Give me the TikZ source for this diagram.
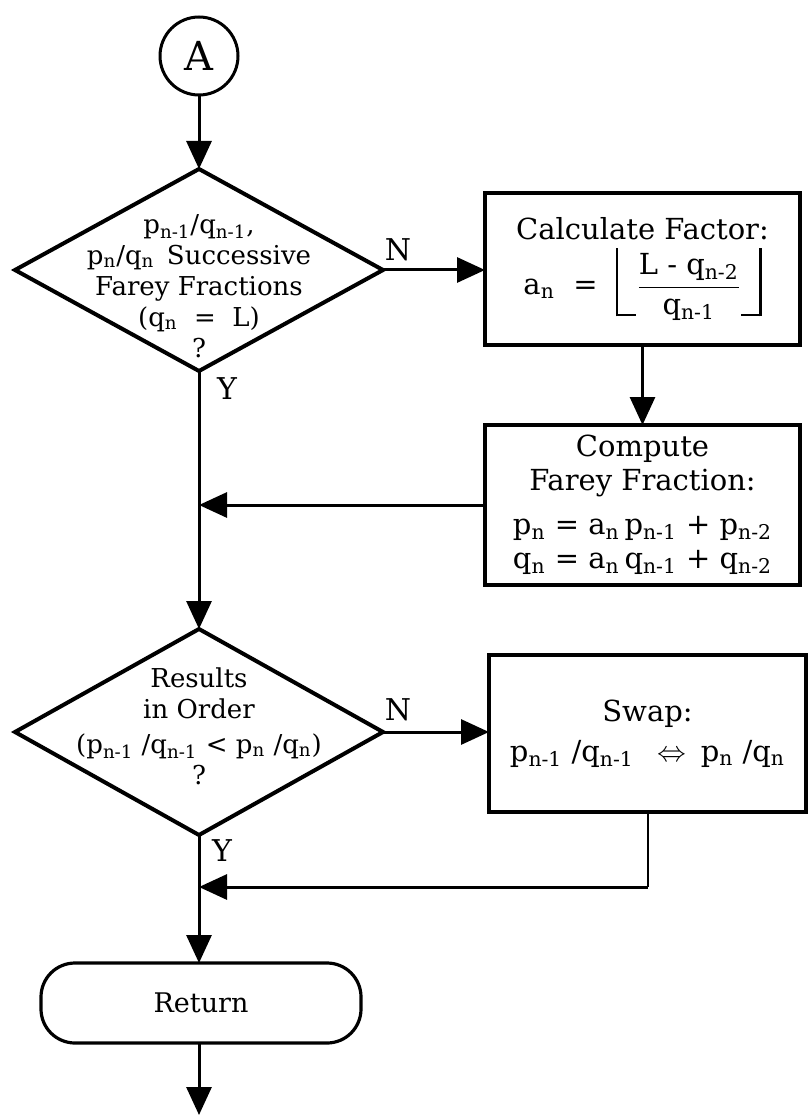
\documentclass[tikz,border=0pt]{standalone}
\usepackage{fontspec}
\usepackage{amsmath}
\setmainfont{DejaVu Serif}
\usetikzlibrary{shapes.geometric,arrows.meta,calc}
\newcommand{\sbs}[1]{\textsubscript{#1}}
\newcommand{\flrL}{\rule[-11pt]{1.2pt}{34pt}\rule[-11pt]{9pt}{1.2pt}}
\newcommand{\flrR}{\rule[-11pt]{9pt}{1.2pt}\rule[-11pt]{1.2pt}{34pt}}
\tikzset{
  ln/.style={line width=1.5pt},
  arr/.style={ln,-{Triangle[length=14pt,width=12.5pt]}},
  dia/.style={draw,shape=diamond,line width=2pt,inner sep=0pt,outer sep=0pt,
              minimum width=184pt,minimum height=101pt},
  box/.style={draw,rectangle,line width=1.6pt,inner sep=0pt,outer sep=0pt,align=center,
              font=\fontsize{14.5}{17}\selectfont},
  dtext/.style={align=center,inner sep=0pt,font=\fontsize{13}{15.5}\selectfont},
  lbl/.style={inner sep=0pt,font=\fontsize{15}{18}\selectfont},
}
\begin{document}
\begin{tikzpicture}[x=0.5pt,y=-0.5pt]
\useasboundingbox (0,0) rectangle (812,1117);

% connector A
\node[draw,circle,line width=1.5pt,minimum size=39pt,inner sep=0pt,outer sep=0pt,
      font=\fontsize{20}{24}\selectfont] (A) at (199,56) {A};

% decision 1
\node[dia] (d1) at (199,270) {};
\node[dtext] (t1) at (199,286) {p\sbs{n-1}/q\sbs{n-1},\\
  p\sbs{n}/q\sbs{n} \,Successive\\ Farey Fractions\\ (q\sbs{n} \ = \ L)\\ ?};

% process boxes
\node[box,minimum width=157.5pt,minimum height=76pt] (b1) at (642.5,269)
  {Calculate Factor:\\[3pt]
   a\sbs{n} \ = \ \flrL$\displaystyle\frac{\mbox{L - q\sbs{n-2}}}{\mbox{q\sbs{n-1}}}$\flrR};
\node[box,minimum width=157.5pt,minimum height=80pt] (b2) at (642.5,505)
  {Compute\\ Farey Fraction:\\[5pt]
   p\sbs{n} = a\sbs{n}\,p\sbs{n-1} + p\sbs{n-2}\\
   q\sbs{n} = a\sbs{n}\,q\sbs{n-1} + q\sbs{n-2}};

% decision 2
\node[dia,minimum height=103pt] (d2) at (199,732) {};
\node[dtext] (t2) at (199,726) {Results\\ in Order\\[2pt]
  (p\sbs{n-1} /q\sbs{n-1} {<} p\sbs{n} /q\sbs{n})\\ ?};

\node[box,minimum width=158.5pt,minimum height=78.5pt] (b3) at (647.5,733.5)
  {Swap:\\[3pt] p\sbs{n-1} /q\sbs{n-1} \enspace$\Leftrightarrow$\enspace p\sbs{n} /q\sbs{n}};

% terminal
\node[draw,rectangle,rounded corners=17pt,line width=1.6pt,minimum width=160pt,
      minimum height=40pt,inner sep=0pt,outer sep=0pt,
      font=\fontsize{13.5}{15}\selectfont] (ret) at (201,1003) {Return};
\coordinate (j2) at (199,887);

% labels
\node[lbl] (n1) at (398,250) {N};
\node[lbl] (y1) at (227,389) {Y};
\node[lbl] (n2) at (398,710) {N};
\node[lbl] (y2) at (222,851) {Y};

% connectors
\draw[arr] (A) -- (d1.north);
\draw[arr] (d1.east) -- (d1.east -| b1.west);
\draw[arr] (b1.south) -- (b2.north);
\draw[arr] (b2.west) -- (b2.west -| d1.south);
\draw[arr] (d1.south) -- (d2.north);
\draw[arr] (d2.east) -- (d2.east -| b3.west);
\draw[line width=1pt] (b3.south) -- (b3.south |- j2);
\draw[arr] (b3.south |- j2) -- (j2);
\draw[arr] (d2.south) -- (d2.south |- ret.north);
\draw[arr] (ret.south -| d2.south) -- ++(0,72);
\end{tikzpicture}
\end{document}
